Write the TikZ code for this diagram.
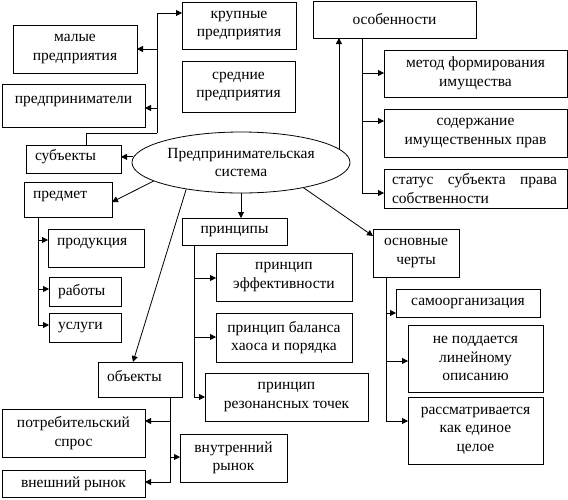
\documentclass[tikz,border=0pt]{standalone}
\usepackage{fontspec}
\setmainfont{Liberation Serif}
\newfontfamily\tnr{Liberation Serif}
\usetikzlibrary{arrows.meta,calc,shapes.geometric}
\newcommand{\up}[2]{\raisebox{#1}[\height][\depth]{#2}}
\begin{document}
\begin{tikzpicture}[x=1pt,y=-1pt,
  every node/.style={font=\tnr\fontsize{15.5}{18.5}\selectfont},
  box/.style={draw, line width=0.8pt, anchor=north west, inner sep=0pt, outer sep=0pt, align=center},
  lbox/.style={box, align=left, inner xsep=9pt},
  arr/.style={line width=0.8pt, -{Triangle[length=6pt,width=6pt]}},
  ln/.style={line width=0.8pt}]
\useasboundingbox (0,0) rectangle (568,499);
% nodes
\node[box, minimum width=114pt, minimum height=47pt] (krup) at (182,2) {крупные\\предприятия};
\node[box, minimum width=124pt, minimum height=48pt] (malye) at (13,25) {малые\\предприятия};
\node[box, minimum width=113pt, minimum height=51pt] (sred) at (182,61) {средние\\предприятия};
\node[box, minimum width=143pt, minimum height=43pt] (predpr) at (2,84) {\up{4pt}{предприниматели}};
\node[lbox, text width=77pt, minimum height=28pt] (subj) at (26,145) {\up{2pt}{субъекты}};
\node[lbox, text width=70pt, minimum height=35pt] (predmet) at (24,182) {\up{3pt}{предмет}};
\node[lbox, text width=78pt, minimum height=38pt] (prod) at (48,229) {\up{4pt}{продукция}};
\node[lbox, text width=54pt, minimum height=29pt] (raboty) at (49,277) {работы};
\node[lbox, text width=54pt, minimum height=29pt] (uslugi) at (49,313) {услуги};
\node[draw, ellipse, line width=0.8pt, inner sep=0pt, minimum width=218pt, minimum height=61pt, align=center] (ell) at (241,162.5) {Предпринимательская\\система};
\node[box, minimum width=163pt, minimum height=37pt] (osob) at (313,1) {особенности};
\node[box, minimum width=183pt, minimum height=47pt] (metod) at (384,50) {метод формирования\\имущества};
\node[box, minimum width=183pt, minimum height=48pt] (soderzh) at (384,109) {содержание\\имущественных прав};
\node[lbox, inner xsep=8pt, text width=167pt, minimum height=39pt] (status) at (384,169) {\hbox to 165pt{статус\hfill субъекта\hfill права}\\собственности};
\node[box, minimum width=105pt, minimum height=27pt] (principy) at (182,218) {принципы};
\node[box, minimum width=136pt, minimum height=48pt] (eff) at (216,253) {принцип\\эффективности};
\node[box, minimum width=136pt, minimum height=49pt] (balans) at (216,313) {принцип баланса\\хаоса и порядка};
\node[box, minimum width=163pt, minimum height=48pt] (rezon) at (205,373) {принцип\\резонансных точек};
\node[box, minimum width=86pt, minimum height=48pt] (osnov) at (373,229) {основные\\черты};
\node[box, minimum width=144pt, minimum height=28pt] (samo) at (396,289) {самоорганизация};
\node[box, minimum width=135pt, minimum height=67pt] (nepod) at (408,325) {не поддается\\линейному\\описанию};
\node[box, minimum width=135pt, minimum height=67pt] (rassm) at (408,397) {рассматривается\\как единое\\целое};
\node[lbox, text width=66pt, minimum height=35pt] (obekty) at (98,362) {\up{3pt}{объекты}};
\node[box, minimum width=143pt, minimum height=48pt] (potreb) at (2,409) {потребительский\\спрос};
\node[box, minimum width=107pt, minimum height=48pt] (vnutr) at (180,434) {внутренний\\рынок};
\node[box, minimum width=143pt, minimum height=27pt] (vnesh) at (2,470) {внешний рынок};
% subjects tree
\coordinate (st) at ($(subj.north west)+(60,0)$);
\coordinate (sj) at ($(subj.north west)+(131,-12)$);
\draw[ln] (st) |- (sj);
\draw[arr] (sj) |- ($(krup.north west)+(0,11)$);
\draw[arr] (sj) |- ($(malye.north east)+(0,24)$);
\draw[arr] (sj) |- ($(predpr.north east)+(0,24)$);
% from ellipse
\draw[arr] (ell.177) -- (ell.177 -| subj.east);
\draw[arr] (ell.192) -- ($(predmet.north east)+(0,20)$);
\draw[arr] (ell.south) -- (ell.south |- principy.north);
\draw[arr] (ell.206) -- ($(obekty.north west)+(35,0)$);
\draw[arr] (ell.8) -- (ell.8 |- osob.south);
\draw[arr] (ell.-22) -- ($(osnov.north west)+(0,7)$);
% osobennosti tree
\coordinate (ot) at ($(osob.south west)+(49,0)$);
\draw[arr] (ot) |- ($(metod.north west)+(0,23)$);
\draw[arr] (ot) |- ($(soderzh.north west)+(0,12)$);
\draw[arr] (ot) |- ($(status.north west)+(0,24)$);
% predmet tree
\coordinate (pt) at ($(predmet.south west)+(14,0)$);
\draw[arr] (pt) |- ($(prod.north west)+(0,11)$);
\draw[arr] (pt) |- ($(raboty.north west)+(0,12)$);
\draw[arr] (pt) |- ($(uslugi.north west)+(0,12)$);
% principy tree
\coordinate (prt) at ($(principy.south west)+(12,0)$);
\draw[arr] (prt) |- ($(eff.north west)+(0,25)$);
\draw[arr] (prt) |- ($(balans.north west)+(0,24)$);
\draw[arr] (prt) |- ($(rezon.north west)+(0,24)$);
% osnov tree
\coordinate (at) at ($(osnov.south west)+(13,0)$);
\draw[arr] (at) |- ($(samo.north west)+(0,24)$);
\draw[arr] (at) |- ($(nepod.north west)+(0,36)$);
\draw[arr] (at) |- ($(rassm.north west)+(0,24)$);
% obekty tree
\coordinate (obt) at ($(obekty.south west)+(72,0)$);
\draw[arr] (obt) |- ($(potreb.north east)+(0,12)$);
\draw[arr] (obt) |- ($(vnutr.north west)+(0,23)$);
\draw[arr] (obt) |- ($(vnesh.north east)+(0,12)$);
\end{tikzpicture}
\end{document}
